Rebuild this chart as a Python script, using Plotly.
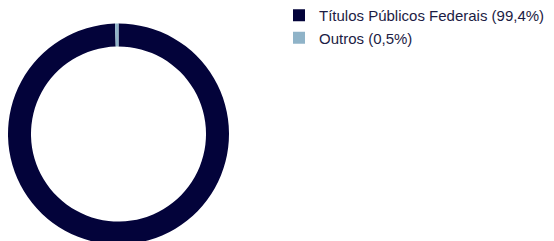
import plotly.graph_objects as go

labels = ["Títulos Públicos Federais", "Outros"]
values = [99.4, 0.5]
colors = ["#03033a", "#8fb3c8"]
legend_labels = [f"{l} ({str(v).replace('.', ',')}%)" for l, v in zip(labels, values)]

# page body has an 8px margin; figure a little wider than the window so nothing clips
W, H = 580, 237

fig = go.Figure(
    go.Pie(
        labels=legend_labels,
        values=values,
        marker=dict(colors=colors, line=dict(width=0)),
        hole=0.792,
        sort=False,
        direction="clockwise",
        rotation=0,
        textinfo="none",
        hoverinfo="label",
        domain=dict(x=[0, 221 / W], y=[0.5 / H, 221.5 / H]),
    )
)

fig.update_layout(
    width=W,
    height=H,
    margin=dict(l=0, r=0, t=0, b=0, autoexpand=False),
    paper_bgcolor="white",
    plot_bgcolor="white",
    font=dict(family="Liberation Sans, Arial, sans-serif", size=15, color="#1c1c44"),
    legend=dict(
        x=271 / W,
        xanchor="left",
        y=1 + 9 / H,
        yanchor="top",
        bgcolor="rgba(0,0,0,0)",
        font=dict(size=15, color="#1c1c44"),
        traceorder="normal",
    ),
    showlegend=True,
)

fig.write_html("out.html")
